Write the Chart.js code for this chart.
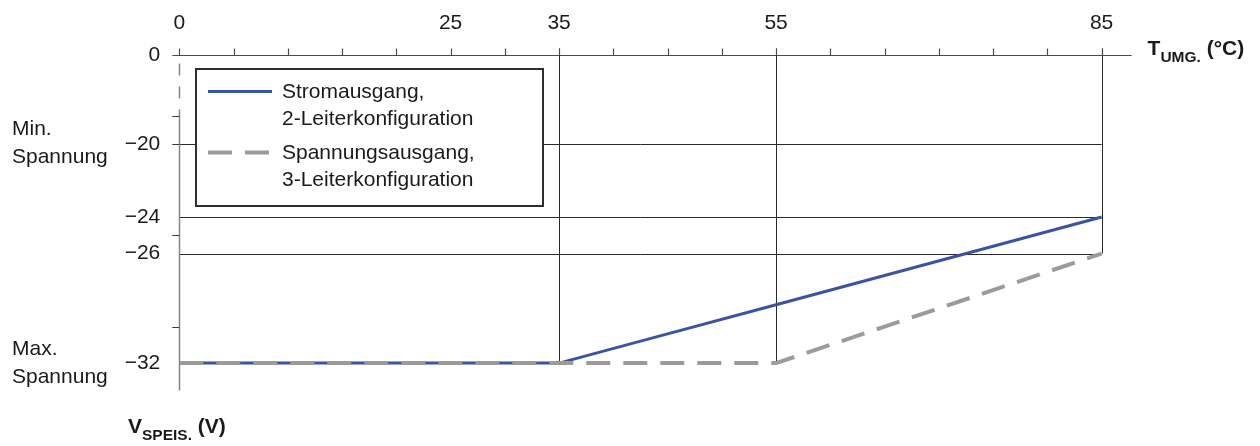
<!DOCTYPE html>
<html>
<head>
<meta charset="utf-8">
<script src="https://cdn.jsdelivr.net/npm/chart.js@4"></script>
<style>
  html, body { margin: 0; padding: 0; background: #fff; }
  #wrap { width: 1260px; height: 446px; }
</style>
</head>
<body>
<div id="wrap"><canvas id="chart" width="1260" height="446"></canvas></div>
<script>
// Stromausgang (2-Leiter): flat at -32 V up to 35 °C, then rising to -24 V
const stromTemps = [0, 35, 45, 55, 65, 75, 85]
const stromVolts = [-32, -32, -30.4, -28.8, -27.2, -25.6, -24]

// Spannungsausgang (3-Leiter): flat at -32 V up to 55 °C, then rising to -26 V
const spannTemps = [0, 35, 55, 65, 85]
const spannVolts = [-32, -32, -32, -30, -26]

const xTickLabels = [0, 25, 35, 55, 85]
const xMinorTicks = [0, 5, 10, 15, 20, 25, 30, 35, 40, 45, 50, 55, 60, 65, 70, 75, 80, 85]
const yTickLabels = [0, -20, -24, -26, -32]
const yMinorTicks = [-20, -25, -30]
const hGridVolts = [-20, -24, -26]
const dropTemps = [35, 55, 85]
const dropVolts = [-32, -32, -26]

const FONT = "'Liberation Sans', Arial, sans-serif"
const SIZE = 21
const TEXT = "#1a1a1a"

// y axis is broken between 0 and -20 (upper part squeezed)
const BREAK = -20
const SQUEEZE = 4.1
const squash = v => v > BREAK ? BREAK + (v - BREAK) / SQUEEZE : v
const unsquash = d => d > BREAK ? BREAK + (d - BREAK) * SQUEEZE : d

class BrokenLinearScale extends Chart.LinearScale {
  getPixelForValue(value) {
    if (value === null || value === undefined || isNaN(value)) return NaN
    const lo = squash(this.min), hi = squash(this.max)
    return this.getPixelForDecimal((squash(value) - lo) / (hi - lo))
  }
  getValueForPixel(pixel) {
    const lo = squash(this.min), hi = squash(this.max)
    return unsquash(lo + this.getDecimalForPixel(pixel) * (hi - lo))
  }
}
BrokenLinearScale.id = "brokenLinear"
BrokenLinearScale.defaults = Chart.LinearScale.defaults
Chart.register(BrokenLinearScale)

const toPoints = (xs, ys) => xs.map((x, i) => ({ x, y: ys[i] }))

function seg(ctx, x1, y1, x2, y2) {
  ctx.beginPath()
  ctx.moveTo(x1, y1)
  ctx.lineTo(x2, y2)
  ctx.stroke()
}

const decorPlugin = {
  id: "decor",
  beforeDatasetsDraw(chart) {
    const { ctx, scales: { x, y } } = chart
    const x0 = x.getPixelForValue(0)
    const x85 = x.getPixelForValue(85)
    const y0 = Math.round(y.getPixelForValue(0)) + 0.5
    ctx.save()

    // horizontal grid lines
    ctx.strokeStyle = "#2a2a2a"
    ctx.lineWidth = 1
    hGridVolts.forEach(v => {
      const py = Math.round(y.getPixelForValue(v)) + 0.5
      seg(ctx, x0, py, x85, py)
    })

    // drop lines down to the curves
    dropTemps.forEach((t, i) => {
      const px = Math.round(x.getPixelForValue(t)) + 0.5
      seg(ctx, px, y0 - 7, px, y.getPixelForValue(dropVolts[i]))
    })

    // x axis with minor ticks
    ctx.strokeStyle = "#4a4a4a"
    ctx.lineWidth = 1.2
    seg(ctx, x0 - 7, y0, x85 + 30, y0)
    xMinorTicks.forEach(t => {
      const px = Math.round(x.getPixelForValue(t)) + 0.5
      seg(ctx, px, y0 - 7, px, y0)
    })

    // y axis: dashed across the break, solid below
    const ax = Math.round(x0) + 0.5
    ctx.strokeStyle = "#858585"
    ctx.lineWidth = 1.5
    ctx.setLineDash([12, 11])
    seg(ctx, ax, y0 + 8, ax, y0 + 56)
    ctx.setLineDash([])
    seg(ctx, ax, y0 + 56, ax, chart.chartArea.bottom)

    ctx.strokeStyle = "#3a3a3a"
    ctx.lineWidth = 1
    yMinorTicks.forEach(v => {
      const py = Math.round(y.getPixelForValue(v)) + 0.5
      seg(ctx, x0 - 7, py, x0, py)
    })
    seg(ctx, x0 - 7, y0 + 61, x0, y0 + 61)

    ctx.restore()
  },

  afterDraw(chart) {
    const { ctx, scales: { x, y } } = chart
    ctx.save()
    ctx.fillStyle = TEXT

    // side labels
    ctx.font = `${SIZE}px ${FONT}`
    ctx.textAlign = "left"
    ctx.textBaseline = "alphabetic"
    const yMin = y.getPixelForValue(-20)
    const yMax = y.getPixelForValue(-32)
    ctx.fillText("Min.", 12, yMin - 9)
    ctx.fillText("Spannung", 12, yMin + 19)
    ctx.fillText("Max.", 12, yMax - 8)
    ctx.fillText("Spannung", 12, yMax + 20)

    // axis titles
    const xt = x.getPixelForValue(85) + 46
    const yt = y.getPixelForValue(0)
    ctx.font = `bold ${SIZE}px ${FONT}`
    ctx.fillText("T", xt, yt)
    let w = ctx.measureText("T").width
    ctx.font = `bold 15.5px ${FONT}`
    ctx.fillText("UMG.", xt + w, yt + 7)
    w += ctx.measureText("UMG.").width
    ctx.font = `bold ${SIZE}px ${FONT}`
    ctx.fillText(" (°C)", xt + w, yt)

    ctx.fillText("V", 128, 433)
    w = ctx.measureText("V").width
    ctx.font = `bold 15.5px ${FONT}`
    ctx.fillText("SPEIS.", 128 + w, 440)
    w += ctx.measureText("SPEIS.").width
    ctx.font = `bold ${SIZE}px ${FONT}`
    ctx.fillText(" (V)", 128 + w, 433)

    // legend box
    const bx = 196, by = 69, bw = 347, bh = 137
    ctx.fillStyle = "#fff"
    ctx.fillRect(bx, by, bw, bh)
    ctx.strokeStyle = "#2e2e2e"
    ctx.lineWidth = 2
    ctx.strokeRect(bx, by, bw, bh)

    const order = [1, 0]
    const baselines = [97.5, 158.5]
    order.forEach((di, k) => {
      const ds = chart.data.datasets[di]
      const base = baselines[k]
      ctx.strokeStyle = ds.borderColor
      ctx.lineWidth = ds.borderWidth
      ctx.setLineDash(ds.borderDash || [])
      seg(ctx, 208, base - 6, 272, base - 6)
      ctx.setLineDash([])
      ctx.fillStyle = TEXT
      ctx.font = `${SIZE}px ${FONT}`
      ds.label.forEach((line, j) => ctx.fillText(line, 282, base + j * 27))
    })

    ctx.restore()
  }
}

new Chart(document.getElementById("chart"), {
  type: "line",
  data: {
    datasets: [
      {
        label: ["Spannungsausgang,", "3-Leiterkonfiguration"],
        data: toPoints(spannTemps, spannVolts),
        borderColor: "#9b9b9b",
        borderWidth: 4,
        borderDash: [24, 13],
        pointRadius: 0,
        tension: 0,
        clip: false,
        order: 0
      },
      {
        label: ["Stromausgang,", "2-Leiterkonfiguration"],
        data: toPoints(stromTemps, stromVolts),
        borderColor: "#3a53a4",
        borderWidth: 3,
        pointRadius: 0,
        tension: 0,
        clip: false,
        order: 1
      }
    ]
  },
  options: {
    responsive: false,
    animation: false,
    layout: { padding: { left: 0, top: 0, right: 158.4, bottom: 55.5 } },
    plugins: {
      legend: { display: false },
      tooltip: { enabled: false }
    },
    scales: {
      x: {
        type: "linear",
        position: "top",
        min: 0,
        max: 85,
        afterBuildTicks: s => { s.ticks = xTickLabels.map(v => ({ value: v })) },
        afterFit: s => { s.height = 55 },
        grid: { display: false, drawTicks: false },
        border: { display: false },
        ticks: {
          autoSkip: false,
          maxRotation: 0,
          padding: 19,
          color: TEXT,
          font: { family: FONT, size: SIZE }
        }
      },
      y: {
        type: "brokenLinear",
        min: -33.5,
        max: 0,
        afterBuildTicks: s => { s.ticks = yTickLabels.map(v => ({ value: v })) },
        afterFit: s => { s.width = 179.3 },
        grid: { display: false, drawTicks: false },
        border: { display: false },
        ticks: {
          padding: 19,
          color: TEXT,
          font: { family: FONT, size: SIZE },
          callback: v => v < 0 ? "\u2212" + Math.abs(v) : String(v)
        }
      }
    }
  },
  plugins: [decorPlugin]
})
</script>
</body>
</html>
